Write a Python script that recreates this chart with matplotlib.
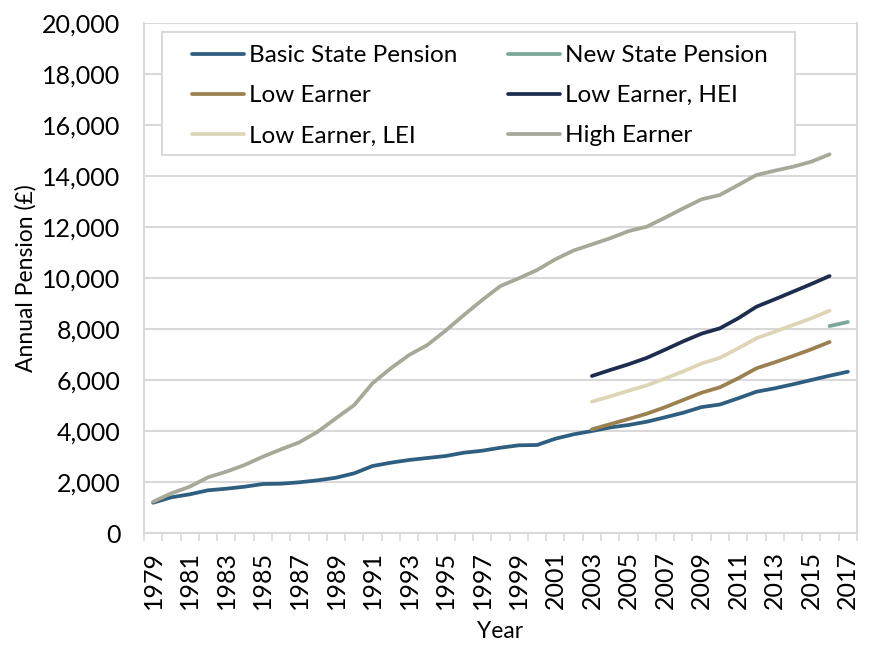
import matplotlib
matplotlib.use("Agg")
import matplotlib.pyplot as plt
from matplotlib.patches import Rectangle
import numpy as np

years = list(range(1979, 2018))

basic_state_pension = [1200, 1412, 1529, 1686, 1749, 1827, 1933, 1945, 2000, 2078,
                       2180, 2353, 2639, 2769, 2875, 2953, 3031, 3161, 3239, 3357,
                       3451, 3463, 3710, 3882, 4010, 4150, 4247, 4376, 4549, 4729,
                       4950, 5050, 5294, 5553, 5686, 5843, 6012, 6180, 6337]
new_state_pension_years = [2016, 2017]
new_state_pension = [8129, 8286]

earner_years = list(range(2003, 2017))
low_earner = [4078, 4280, 4480, 4690, 4945, 5230, 5514, 5725, 6078, 6471,
              6706, 6953, 7216, 7502]
low_earner_hei = [6169, 6404, 6627, 6880, 7200, 7530, 7830, 8039, 8431, 8886,
                  9176, 9475, 9776, 10090]
low_earner_lei = [5161, 5370, 5590, 5800, 6070, 6350, 6660, 6880, 7255, 7647,
                  7906, 8169, 8431, 8729]
high_earner = [1239, 1569, 1827, 2196, 2416, 2678, 3004, 3294, 3569, 3984,
               4510, 5031, 5882, 6471, 6992, 7384, 7950, 8561, 9149, 9698,
               10000, 10325, 10745, 11090, 11330, 11570, 11850, 12024, 12376, 12745,
               13098, 13267, 13659, 14051, 14220, 14376, 14573, 14862]
high_earner_years = list(range(1979, 2017))

tick_years = list(range(1979, 2018, 2))
y_ticks = list(range(0, 20001, 2000))

c_bsp = "#2F5F80"
c_nsp = "#79A89B"
c_low = "#9B8150"
c_hei = "#1C2D4F"
c_lei = "#DDD6B6"
c_high = "#A7A897"
grid_c = "#D9D9D9"

plt.rcParams['font.family'] = ['Lato', 'DejaVu Sans']

W, H = 873, 645
fig = plt.figure(figsize=(W/100, H/100), dpi=100)
ax = fig.add_axes([144/W, 1-533.3/H, (857-144)/W, (533.3-23.3)/H])

def idx(ys):
    return [y - years[0] for y in ys]

lw = 2.7
kw = dict(lw=lw, solid_capstyle='round', solid_joinstyle='round', zorder=3)
ax.plot(idx(years), basic_state_pension, color=c_bsp, label="Basic State Pension", **kw)
ax.plot(idx(new_state_pension_years), new_state_pension, color=c_nsp, label="New State Pension", **kw)
ax.plot(idx(earner_years), low_earner, color=c_low, label="Low Earner", **kw)
ax.plot(idx(earner_years), low_earner_hei, color=c_hei, label="Low Earner, HEI", **kw)
ax.plot(idx(earner_years), low_earner_lei, color=c_lei, label="Low Earner, LEI", **kw)
ax.plot(idx(high_earner_years), high_earner, color=c_high, label="High Earner", **kw)

ax.set_xlim(-0.5, len(years) - 0.5)
ax.set_ylim(0, 20000)
ax.set_yticks(y_ticks)
ax.set_yticklabels([f"{v:,}" for v in y_ticks])
ax.set_xticks(idx(tick_years))
ax.set_xticklabels([str(y) for y in tick_years], rotation=90)
ax.set_xticks(np.arange(-0.5, len(years), 1.0), minor=True)
ax.tick_params(axis='x', which='major', length=0, pad=13, labelsize=18)
ax.tick_params(axis='x', which='minor', length=6, color=grid_c, width=1.2)
ax.tick_params(axis='y', length=0, pad=17, labelsize=18)
ax.grid(axis='y', color=grid_c, lw=1.5, zorder=0)
for s in ax.spines.values():
    s.set_color(grid_c)
    s.set_linewidth(1.5)
ax.spines['top'].set_visible(False)

ax.set_ylabel("Annual Pension (£)", fontsize=16.5, labelpad=4)
ax.set_xlabel("Year", fontsize=16.5, labelpad=8)

# legend frame
frame = Rectangle((162/W, 1-155/H), (795-162)/W, (155-32)/H, transform=fig.transFigure,
                  facecolor='white', edgecolor=grid_c, lw=1.5, zorder=4, clip_on=False)
ax.add_patch(frame)

handles, labels = ax.get_legend_handles_labels()
order = ["Basic State Pension", "Low Earner", "Low Earner, LEI",
         "New State Pension", "Low Earner, HEI", "High Earner"]
hmap = dict(zip(labels, handles))
fs = 17.5
leg = ax.legend([hmap[o] for o in order], order, ncol=2, loc='upper left',
                bbox_to_anchor=(192/W, 1-45/H), bbox_transform=fig.transFigure,
                fontsize=fs, frameon=False,
                handlelength=37.4/fs, handletextpad=3.6/fs,
                borderaxespad=0, borderpad=0, labelspacing=0.79, columnspacing=2.1)
leg.set_zorder(5)

fig.savefig("out.png", dpi=100)
